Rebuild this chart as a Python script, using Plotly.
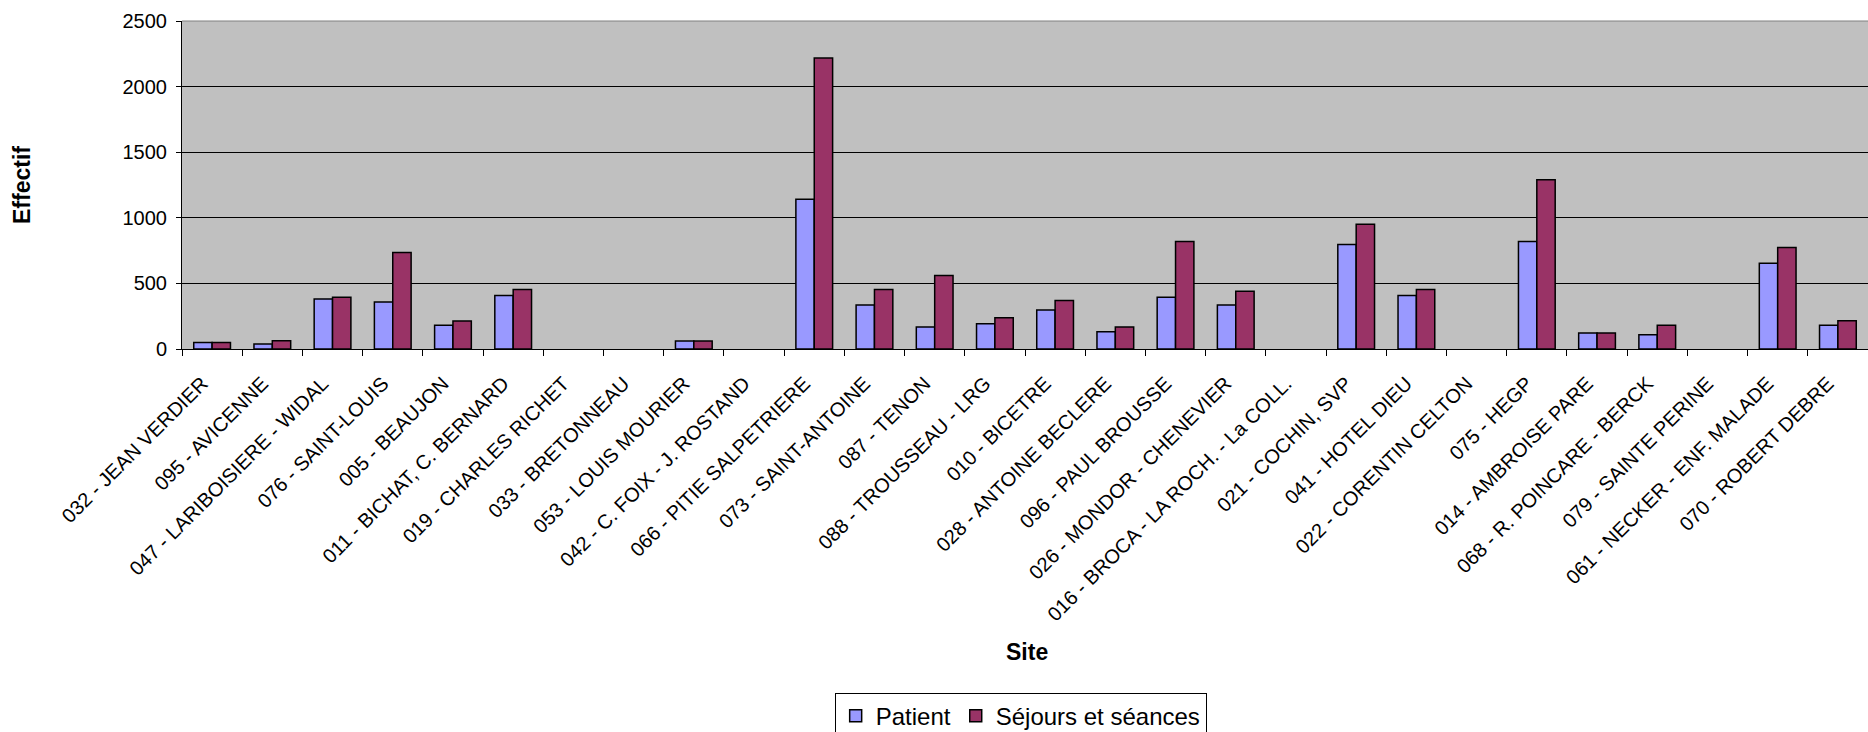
import plotly.graph_objects as go

sites = [
    "032 - JEAN VERDIER", "095 - AVICENNE", "047 - LARIBOISIERE - WIDAL",
    "076 - SAINT-LOUIS", "005 - BEAUJON", "011 - BICHAT, C. BERNARD",
    "019 - CHARLES RICHET", "033 - BRETONNEAU", "053 - LOUIS MOURIER",
    "042 - C. FOIX - J. ROSTAND", "066 - PITIE SALPETRIERE", "073 - SAINT-ANTOINE",
    "087 - TENON", "088 - TROUSSEAU - LRG", "010 - BICETRE",
    "028 - ANTOINE BECLERE", "096 - PAUL BROUSSE", "026 - MONDOR - CHENEVIER",
    "016 - BROCA - LA ROCH. - La COLL.", "021 - COCHIN, SVP", "041 - HOTEL DIEU",
    "022 - CORENTIN CELTON", "075 - HEGP", "014 - AMBROISE PARE",
    "068 - R. POINCARE - BERCK", "079 - SAINTE PERINE", "061 - NECKER - ENF. MALADE",
    "070 - ROBERT DEBRE",
]

patient = [50, 38, 382, 359, 181, 407, None, None, 61, None, 1141, 336,
           168, 193, 298, 132, 395, 336, None, 797, 407, None, 820, 122,
           109, None, 654, 181]

sejours = [50, 62, 395, 736, 214, 453, None, None, 61, None, 2218, 453,
           560, 239, 369, 168, 820, 441, None, 950, 453, None, 1290, 122,
           181, None, 774, 216]

y_ticks = [0, 500, 1000, 1500, 2000, 2500]

FONT = "Liberation Sans, Arial, sans-serif"

fig = go.Figure()
fig.add_trace(go.Bar(x=sites, y=patient, name="Patient",
                     marker=dict(color="#9999FF", line=dict(color="#000000", width=1.5))))
fig.add_trace(go.Bar(x=sites, y=sejours, name="Séjours et séances",
                     marker=dict(color="#993366", line=dict(color="#000000", width=1.5))))

fig.update_layout(
    width=1868, height=732,
    margin=dict(l=182, r=0, t=21, b=383, autoexpand=False),
    paper_bgcolor="#FFFFFF",
    plot_bgcolor="#C0C0C0",
    barmode="group",
    bargap=0.39,
    bargroupgap=0,
    font=dict(family=FONT, color="#000000"),
    showlegend=True,
    legend=dict(
        orientation="h",
        xref="container", yref="container",
        x=0.5464, xanchor="center",
        y=0.0537, yanchor="top",
        bgcolor="#FFFFFF",
        bordercolor="#000000", borderwidth=1,
        font=dict(family=FONT, size=24, color="#000000"),
        itemwidth=30,
    ),
    xaxis=dict(
        type="category",
        tickangle=-45,
        tickfont=dict(family=FONT, size=20, color="#000000"),
        ticks="outside", ticklen=6, tickcolor="#000000", tickwidth=1,
        tickson="boundaries",
        ticklabelstandoff=14,
        ticklabelshift=-10,
        showline=True, linecolor="#000000", linewidth=1,
        showgrid=False,
        automargin=False,
    ),
    yaxis=dict(
        range=[0, 2500],
        tickvals=y_ticks,
        ticktext=[str(v) for v in y_ticks],
        tickfont=dict(family=FONT, size=20, color="#000000"),
        ticks="outside", ticklen=5, tickcolor="#000000", tickwidth=1,
        ticklabelstandoff=5,
        showline=True, linecolor="#000000", linewidth=1,
        showgrid=True, gridcolor="#000000", gridwidth=1,
        zeroline=False,
        automargin=False,
    ),
    annotations=[
        dict(text="<b>Effectif</b>", xref="paper", yref="paper",
             x=-0.0949, y=0.5, xanchor="center", yanchor="middle",
             textangle=-90, showarrow=False,
             font=dict(family=FONT, size=23, color="#000000")),
        dict(text="<b>Site</b>", xref="paper", yref="paper",
             x=0.5012, y=-0.925, xanchor="center", yanchor="middle",
             showarrow=False,
             font=dict(family=FONT, size=23, color="#000000")),
    ],
    shapes=[
        dict(type="line", xref="paper", yref="paper", x0=0, x1=1, y0=1, y1=1,
             line=dict(color="#808080", width=1)),
    ],
)

fig.write_html("out.html")
